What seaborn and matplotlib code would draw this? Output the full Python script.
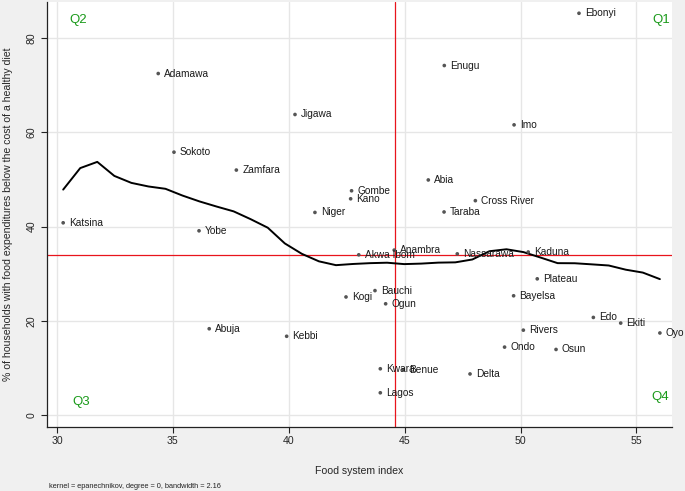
import numpy as np
import pandas as pd
import matplotlib
matplotlib.use("Agg")
import matplotlib.pyplot as plt
import seaborn as sns

states = ["Adamawa", "Jigawa", "Sokoto", "Zamfara", "Katsina", "Yobe", "Niger",
          "Gombe", "Kano", "Ebonyi", "Enugu", "Imo", "Abia", "Cross River", "Taraba",
          "Abuja", "Kebbi", "Kogi", "Akwa Ibom", "Anambra", "Nassarawa", "Kaduna",
          "Plateau", "Bauchi", "Ogun", "Bayelsa", "Edo", "Ekiti", "Oyo", "Rivers",
          "Ondo", "Osun", "Kwara", "Benue", "Delta", "Lagos"]
food_system_index = [34.37, 40.27, 35.05, 37.74, 30.27, 36.13, 41.13,
                     42.71, 42.67, 52.52, 46.71, 49.72, 46.02, 48.05, 46.70,
                     36.57, 39.91, 42.47, 43.02, 44.55, 47.27, 50.33,
                     50.72, 43.72, 44.18, 49.70, 53.14, 54.32, 56.01, 50.12,
                     49.31, 51.53, 43.95, 44.94, 47.82, 43.95]
pct_below = [72.5, 63.8, 55.8, 52.0, 40.8, 39.1, 43.0,
             47.6, 45.9, 85.3, 74.2, 61.6, 49.9, 45.5, 43.1,
             18.3, 16.7, 25.05, 34.0, 35.0, 34.2, 34.6,
             28.9, 26.4, 23.6, 25.3, 20.7, 19.5, 17.4, 18.0,
             14.4, 13.9, 9.8, 9.6, 8.7, 4.7]
x_ticks = [30, 35, 40, 45, 50, 55]
y_ticks = [0, 20, 40, 60, 80]
mean_x = 44.6
mean_y = 34.0
bandwidth = 2.16

df = pd.DataFrame({"state": states, "fsi": food_system_index, "pct": pct_below})

# local constant (degree 0) kernel regression with Stata's Epanechnikov kernel
grid = np.linspace(df.fsi.min(), df.fsi.max(), min(len(df), 50))
xs = df.fsi.to_numpy(); ys = df.pct.to_numpy()
smooth = []
for g in grid:
    z = (xs - g) / bandwidth
    w = np.where(np.abs(z) < np.sqrt(5), 0.75 * (1 - z ** 2 / 5) / np.sqrt(5), 0.0)
    smooth.append(np.sum(w * ys) / np.sum(w))
sm = pd.DataFrame({"x": grid, "y": smooth})

sns.set_style("whitegrid", {"axes.facecolor": "white", "figure.facecolor": "#f0f0f0",
                            "grid.color": "#e6e6e6", "axes.edgecolor": "#222222"})
plt.rcParams["font.family"] = ["Liberation Sans", "DejaVu Sans"]

fig = plt.figure(figsize=(6.85, 4.91), dpi=100)
fig.patch.set_facecolor("#f0f0f0")
ax = fig.add_axes([0.0682, 0.131, 0.9124, 0.865])

ax.axhline(mean_y, color="#e8141c", lw=0.9, zorder=2)
ax.axvline(mean_x, color="#e8141c", lw=0.9, zorder=2)
sns.lineplot(data=sm, x="x", y="y", ax=ax, color="black", lw=1.4, zorder=3)
sns.scatterplot(data=df, x="fsi", y="pct", ax=ax, color="#555555", s=7,
                edgecolor="none", zorder=4)
for _, r in df.iterrows():
    ax.annotate(r.state, (r.fsi, r.pct), xytext=(4.2, 0), textcoords="offset points",
                ha="left", va="center", fontsize=7.3, color="#1a1a1a", zorder=5)

qcol = "#1a9a1a"
ax.text(30.52, 83.9, "Q2", color=qcol, fontsize=9.5, va="center", ha="left")
ax.text(55.67, 83.9, "Q1", color=qcol, fontsize=9.5, va="center", ha="left")
ax.text(30.65, 2.8, "Q3", color=qcol, fontsize=9.5, va="center", ha="left")
ax.text(55.63, 3.8, "Q4", color=qcol, fontsize=9.5, va="center", ha="left")

ax.set_xlim(29.56, 56.52)
ax.set_ylim(-2.5, 87.7)
ax.set_xticks(x_ticks)
ax.set_yticks(y_ticks)
ax.set_xticklabels([str(t) for t in x_ticks], fontsize=7.6)
ax.set_yticklabels([str(t) for t in y_ticks], fontsize=7.6, rotation=90, va="center")
ax.tick_params(axis="both", which="both", length=4, width=0.8, color="#222222",
               direction="out", left=True, bottom=True, pad=3)
ax.grid(True, color="#e6e6e6", lw=1.0)
for s in ["top", "right"]:
    ax.spines[s].set_visible(False)
for s in ["left", "bottom"]:
    ax.spines[s].set_linewidth(0.9)
    ax.spines[s].set_color("#222222")
ax.set_xlabel("Food system index", fontsize=7.6, labelpad=14)
ax.set_ylabel("% of households with food expenditures below the cost of a healthy diet",
              fontsize=7.6, labelpad=10)
fig.text(49 / 685, 1 - 487 / 491, "kernel = epanechnikov, degree = 0, bandwidth = 2.16",
         fontsize=5.3, ha="left", va="center", color="#222222")

fig.savefig("out.png", dpi=100, facecolor=fig.get_facecolor())
